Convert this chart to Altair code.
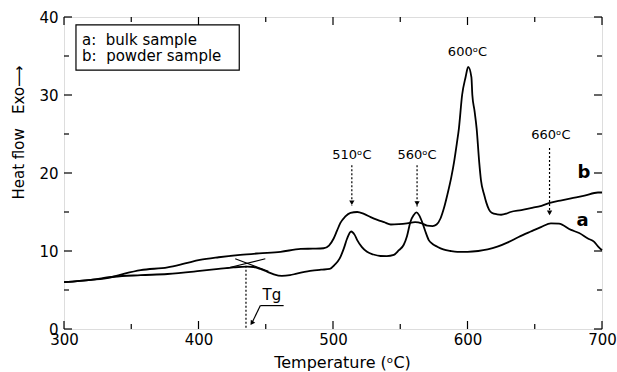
import altair as alt
import pandas as pd

# ---------------- data ----------------
a_t = [300, 320, 337, 357, 377, 401, 415, 426, 436, 441, 446, 451, 456, 462, 468, 473, 483, 491,
       497.6, 501, 505, 508, 510.5, 513.5, 516, 518, 521.5, 525.3, 530, 535.3, 540, 545.2, 549,
       552.6, 555, 557.6, 560, 562, 564, 566.2, 568.5, 571.2, 574, 577.5, 582, 587.4, 592.4, 600,
       608, 615, 622.2, 630, 638, 647, 655, 662, 668, 677, 683, 689.5, 694, 697, 700]
a_v = [6.0, 6.3, 6.7, 6.9, 7.05, 7.44, 7.7, 7.9, 8.0, 7.95, 7.7, 7.35, 7.0, 6.8, 6.9, 7.1, 7.44, 7.6,
       7.7, 8.2, 9.05, 10.3, 11.6, 12.5, 12.1, 11.4, 10.5, 9.9, 9.55, 9.36, 9.35, 9.5, 10.1,
       10.8, 11.9, 13.75, 14.6, 14.95, 14.6, 13.75, 12.6, 11.4, 10.9, 10.55, 10.2, 10.0, 9.9, 9.9,
       10.0, 10.2, 10.55, 11.1, 11.8, 12.5, 13.1, 13.55, 13.5, 12.7, 12.3, 11.6, 11.2, 10.6, 10.1]

b_t = [300, 320, 334, 345, 357, 377, 390, 401, 415, 431, 445, 461, 476, 485, 493, 497, 500.5, 503,
       505.5, 509, 513, 518, 523, 528, 533, 538, 543, 549, 555, 561, 566, 570, 574, 577, 580, 582.5,
       585, 588, 590, 592, 593.6, 596, 598.6, 600.5, 602.9, 603.6, 605.2, 606.8, 608.7, 610, 612.4,
       614, 616, 618, 622, 625, 629, 632, 640, 647, 655, 662, 670, 677, 687, 697, 700]
b_v = [6.0, 6.3, 6.6, 7.1, 7.55, 7.9, 8.4, 8.85, 9.2, 9.5, 9.7, 9.9, 10.26, 10.3, 10.35, 10.7, 11.6, 12.6,
       13.6, 14.4, 14.9, 15.0, 14.75, 14.35, 14.0, 13.7, 13.4, 13.45, 13.55, 13.7, 13.55, 13.25, 13.2, 13.4, 14.2, 15.5,
       17.2, 19.5, 21.4, 23.7, 25.7, 30.0, 32.3, 33.6, 32.3, 30.0, 28.0, 25.7, 21.4, 19.1, 17.2,
       16.2, 15.3, 14.9, 14.7, 14.65, 14.8, 15.0, 15.25, 15.5, 15.8, 16.2, 16.5, 16.75, 17.1, 17.5, 17.5]

series_names = ["a", "b"]

# legend box (in data units) and its entries
legend_labels = ["a:\u00a0 bulk sample", "b:\u00a0 powder sample"]
legend_text_x = 313.4
legend_text_y = [37.1, 35.0]
legend_box_x = [308.9, 430.3]
legend_box_y = [33.2, 39.0]

# peak annotations
peak_labels = ["510\u1d52C", "560\u1d52C", "600\u1d52C", "660\u1d52C"]
peak_label_x = [514, 562.5, 600, 662]
peak_label_y = [22.3, 22.3, 35.5, 24.9]
arrow_x = [514, 562.5, 661]
arrow_top = [21.0, 21.0, 23.2]
arrow_tip = [15.8, 15.7, 14.5]

# curve letters
letter_text = ["b", "a"]
letter_x = [686.5, 685.5]
letter_y = [20.0, 13.8]

# Tg construction
tan_id = ["t1", "t1", "t2", "t2"]
tan_x = [427.3, 452, 420, 449.7]
tan_y = [9.0, 7.4, 7.75, 9.0]
tg_x = 435.3
tg_top = 8.1
tg_label_x, tg_label_y = 454.6, 4.4
tg_line_x = [446, 463.3]
tg_line_y = 3.0
tg_arrow_x = [446, 439.6]
tg_arrow_y = [3.0, 0.75]

# axis ticks
x_major = [300, 400, 500, 600, 700]
x_minor = [350, 450, 550, 650]
y_major = [0, 10, 20, 30, 40]
y_minor = [5, 15, 25, 35]

# ---------------- chart ----------------
W, H = 538, 312
FONT = "DejaVu Sans"
xs = alt.Scale(domain=[300, 700], nice=False, zero=False)
ys = alt.Scale(domain=[0, 40], nice=False, zero=False)

curves = pd.DataFrame({
    "t": a_t + b_t,
    "v": a_v + b_v,
    "s": [series_names[0]] * len(a_t) + [series_names[1]] * len(b_t),
})

x_axis = alt.Axis(values=x_major, ticks=False, domain=False, grid=False, labelFlush=False,
                  labelFont=FONT, labelFontSize=15, labelColor="black", labelPadding=3,
                  titleFont=FONT, titleFontSize=16, titleFontWeight="normal", titleColor="black",
                  titleX=278, titleY=33, titleBaseline="middle", titleAlign="center")
y_axis = alt.Axis(values=y_major, ticks=False, domain=False, grid=False, labelFlush=False,
                  labelFont=FONT, labelFontSize=15, labelColor="black", labelPadding=6,
                  titleFont=FONT, titleFontSize=15, titleFontWeight="normal", titleColor="black",
                  titleX=-46, titleY=115, titleBaseline="middle", titleAlign="center", titleAngle=270)

lines = alt.Chart(curves).mark_line(strokeWidth=1.8, interpolate="monotone", color="black").encode(
    x=alt.X("t:Q", scale=xs, axis=x_axis, title="Temperature (\u1d52C)"),
    y=alt.Y("v:Q", scale=ys, axis=y_axis,
            title="Heat flow\u00a0\u00a0\u00a0Exo\u27f6"),
    detail="s:N",
)

box_df = pd.DataFrame({"x": [legend_box_x[0]], "x2": [legend_box_x[1]],
                       "y": [legend_box_y[0]], "y2": [legend_box_y[1]]})
legend_box = alt.Chart(box_df).mark_rect(fill="white", stroke="black", strokeWidth=1.2).encode(
    x=alt.X("x:Q", scale=xs), x2="x2:Q", y=alt.Y("y:Q", scale=ys), y2="y2:Q")
leg_df = pd.DataFrame({"x": [legend_text_x] * 2, "y": legend_text_y, "txt": legend_labels})
legend_text = alt.Chart(leg_df).mark_text(font=FONT, fontSize=15, color="black",
                                          baseline="middle", align="left").encode(
    x=alt.X("x:Q", scale=xs), y=alt.Y("y:Q", scale=ys), text="txt:N")

peaks_df = pd.DataFrame({"x": peak_label_x, "y": peak_label_y, "txt": peak_labels})
peak_text = alt.Chart(peaks_df).mark_text(font=FONT, fontSize=13, color="black",
                                          baseline="middle", align="center").encode(
    x=alt.X("x:Q", scale=xs), y=alt.Y("y:Q", scale=ys), text="txt:N")

arr_df = pd.DataFrame({"x": arrow_x, "top": arrow_top, "tip": arrow_tip})
arr_lines = alt.Chart(arr_df).mark_rule(color="black", strokeWidth=1.2, strokeDash=[2, 2]).encode(
    x=alt.X("x:Q", scale=xs), y=alt.Y("top:Q", scale=ys), y2="tip:Q")
arr_heads = alt.Chart(arr_df).mark_point(shape="triangle-down", filled=True, color="black",
                                         size=28, opacity=1, yOffset=-3).encode(
    x=alt.X("x:Q", scale=xs), y=alt.Y("tip:Q", scale=ys))

let_df = pd.DataFrame({"x": letter_x, "y": letter_y, "txt": letter_text})
letters = alt.Chart(let_df).mark_text(font=FONT, fontSize=18, fontWeight="bold", color="black",
                                      baseline="middle", align="center").encode(
    x=alt.X("x:Q", scale=xs), y=alt.Y("y:Q", scale=ys), text="txt:N")

tan_df = pd.DataFrame({"x": tan_x, "y": tan_y, "id": tan_id})
tangents = alt.Chart(tan_df).mark_line(color="black", strokeWidth=1.1).encode(
    x=alt.X("x:Q", scale=xs), y=alt.Y("y:Q", scale=ys), detail="id:N")

tg_df = pd.DataFrame({"x": [tg_x], "top": [tg_top], "bot": [0.0]})
tg_rule = alt.Chart(tg_df).mark_rule(color="black", strokeWidth=1.2, strokeDash=[2, 2]).encode(
    x=alt.X("x:Q", scale=xs), y=alt.Y("top:Q", scale=ys), y2="bot:Q")

tg_txt_df = pd.DataFrame({"x": [tg_label_x], "y": [tg_label_y], "txt": ["Tg"]})
tg_text = alt.Chart(tg_txt_df).mark_text(font=FONT, fontSize=15, color="black",
                                         baseline="middle", align="center").encode(
    x=alt.X("x:Q", scale=xs), y=alt.Y("y:Q", scale=ys), text="txt:N")

tg_under_df = pd.DataFrame({"x": [tg_line_x[0]], "x2": [tg_line_x[1]], "y": [tg_line_y]})
tg_under = alt.Chart(tg_under_df).mark_rule(color="black", strokeWidth=1.2).encode(
    x=alt.X("x:Q", scale=xs), x2="x2:Q", y=alt.Y("y:Q", scale=ys))

tg_arr_df = pd.DataFrame({"x": tg_arrow_x, "y": tg_arrow_y})
tg_arrow = alt.Chart(tg_arr_df).mark_line(color="black", strokeWidth=1.2).encode(
    x=alt.X("x:Q", scale=xs), y=alt.Y("y:Q", scale=ys))
tg_head_df = pd.DataFrame({"x": [tg_arrow_x[1]], "y": [tg_arrow_y[1]]})
tg_head = alt.Chart(tg_head_df).mark_point(shape="triangle-down", filled=True, color="black",
                                           size=28, opacity=1, angle=34).encode(
    x=alt.X("x:Q", scale=xs), y=alt.Y("y:Q", scale=ys))


def tick_layer(vals, orient, length):
    df = pd.DataFrame({"p": vals})
    c = alt.Chart(df).mark_rule(color="black", strokeWidth=1.2)
    if orient == "bottom":
        return c.encode(x=alt.X("p:Q", scale=xs), y=alt.value(H), y2=alt.value(H - length))
    if orient == "top":
        return c.encode(x=alt.X("p:Q", scale=xs), y=alt.value(0), y2=alt.value(length))
    if orient == "left":
        return c.encode(y=alt.Y("p:Q", scale=ys), x=alt.value(0), x2=alt.value(length))
    return c.encode(y=alt.Y("p:Q", scale=ys), x=alt.value(W), x2=alt.value(W - length))


ticks = []
for o in ["bottom", "top"]:
    ticks.append(tick_layer(x_major, o, 8))
    ticks.append(tick_layer(x_minor, o, 5))
for o in ["left", "right"]:
    ticks.append(tick_layer(y_major, o, 8))
    ticks.append(tick_layer(y_minor, o, 5))

chart = alt.layer(
    lines, legend_box, legend_text, tangents, tg_rule, tg_text, tg_under, tg_arrow, tg_head,
    arr_lines, arr_heads, peak_text, letters, *ticks
).properties(
    width=W, height=H,
    autosize=alt.AutoSizeParams(type="none"),
    padding={"left": 64, "top": 17, "right": 15, "bottom": 43},
).configure_view(stroke="black", strokeWidth=1.5).configure(background="white")

chart.save("out.html", embed_options={"renderer": "svg", "actions": False})
